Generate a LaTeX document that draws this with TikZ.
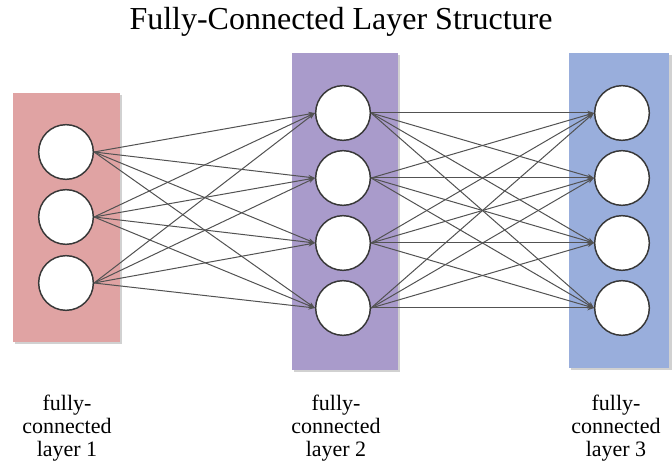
\documentclass[tikz,border=0pt]{standalone}
\usepackage{fontspec}
\setmainfont{Liberation Serif}
\usepackage{tikz}
\usetikzlibrary{arrows.meta}
\definecolor{layerred}{HTML}{E0A3A3}
\definecolor{layerpurple}{HTML}{A99BCB}
\definecolor{layerblue}{HTML}{99AEDC}
\tikzset{unit/.style={circle,draw=black!78,line width=1.1pt,fill=white,
           minimum size=41pt,inner sep=0pt},
         link/.style={->,draw=black!68,line width=0.75pt},
         layerlabel/.style={align=center,font=\fontsize{16.5}{17.5}\selectfont},
         >={Stealth[length=5pt,width=3.5pt]}}

\begin{document}
\begin{tikzpicture}[x=0.75pt,y=-0.75pt]
    \useasboundingbox (0,0) rectangle (672,466);

    % layer backgrounds with a light shadow
    \fill[black!18] (15,95) rectangle (122,344); \fill[layerred] (13,93)
    rectangle (120,342); \fill[black!18] (294,55) rectangle (400,372);
    \fill[layerpurple] (292,53) rectangle (398,370); \fill[black!18]
    (571,55) rectangle (672,370); \fill[layerblue] (569,53) rectangle
    (669,368);

    \node[font=\fontsize{24}{28}\selectfont] (title) at (341,22)
    {Fully-Connected Layer Structure};

    \node[unit] (A1) at (66,152) {}; \node[unit] (A2) at (66,217) {};
    \node[unit] (A3) at (66,283) {};

    \node[unit] (B1) at (343,113) {}; \node[unit] (B2) at (343,178) {};
    \node[unit] (B3) at (343,243) {}; \node[unit] (B4) at (343,308) {};

    \node[unit] (C1) at (622,113) {}; \node[unit] (C2) at (622,178) {};
    \node[unit] (C3) at (622,243) {}; \node[unit] (C4) at (622,308) {};

    \draw[link] (A1.east) -- (B1.west); \draw[link] (A1.east) -- (B2.west);
    \draw[link] (A1.east) -- (B3.west); \draw[link] (A1.east) -- (B4.west);
    \draw[link] (A2.east) -- (B1.west); \draw[link] (A2.east) -- (B2.west);
    \draw[link] (A2.east) -- (B3.west); \draw[link] (A2.east) -- (B4.west);
    \draw[link] (A3.east) -- (B1.west); \draw[link] (A3.east) -- (B2.west);
    \draw[link] (A3.east) -- (B3.west); \draw[link] (A3.east) -- (B4.west);

    \draw[link] (B1.east) -- (C1.west); \draw[link] (B1.east) -- (C2.west);
    \draw[link] (B1.east) -- (C3.west); \draw[link] (B1.east) -- (C4.west);
    \draw[link] (B2.east) -- (C1.west); \draw[link] (B2.east) -- (C2.west);
    \draw[link] (B2.east) -- (C3.west); \draw[link] (B2.east) -- (C4.west);
    \draw[link] (B3.east) -- (C1.west); \draw[link] (B3.east) -- (C2.west);
    \draw[link] (B3.east) -- (C3.west); \draw[link] (B3.east) -- (C4.west);
    \draw[link] (B4.east) -- (C1.west); \draw[link] (B4.east) -- (C2.west);
    \draw[link] (B4.east) -- (C3.west); \draw[link] (B4.east) -- (C4.west);

    \node[layerlabel] (T1) at (67,428) {fully-\\connected\\layer 1};
    \node[layerlabel] (T2) at (336,428) {fully-\\connected\\layer 2};
    \node[layerlabel] (T3) at (616,428) {fully-\\connected\\layer 3};

  \end{tikzpicture}
\end{document}
